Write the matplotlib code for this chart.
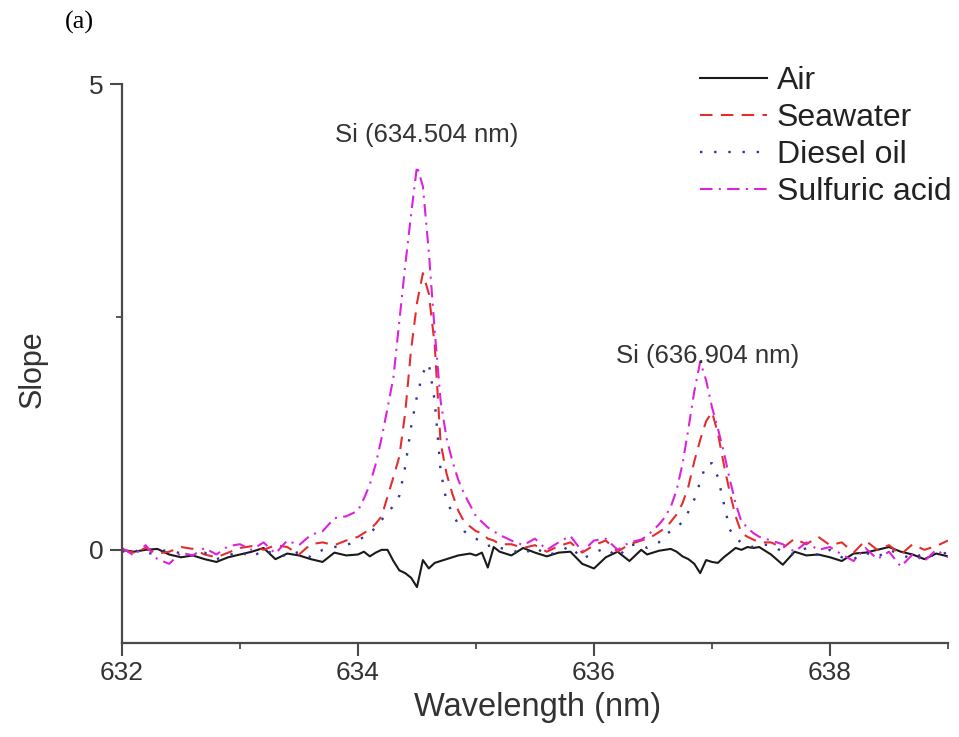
import matplotlib
matplotlib.use("Agg")
import matplotlib.pyplot as plt
from matplotlib.ticker import MultipleLocator

# ---------------- data ----------------
wavelength = [
    632.0, 632.1, 632.2, 632.3, 632.4, 632.5, 632.6, 632.7, 632.8, 632.9,
    633.0, 633.1, 633.2, 633.3, 633.4, 633.5, 633.6, 633.7, 633.8, 633.9,
    634.00, 634.05, 634.10, 634.15, 634.20, 634.25, 634.30, 634.35, 634.40, 634.45,
    634.50, 634.55, 634.60, 634.65, 634.70, 634.75, 634.80, 634.85, 634.90, 634.95,
    635.00, 635.05, 635.10, 635.15, 635.20,
    635.3, 635.4, 635.5, 635.6, 635.7, 635.8, 635.9, 636.0, 636.1, 636.2, 636.3, 636.4,
    636.45, 636.50, 636.55, 636.60, 636.65, 636.70, 636.75, 636.80, 636.85, 636.90,
    636.95, 637.00, 637.05, 637.10, 637.15, 637.20, 637.25, 637.30, 637.35, 637.40,
    637.5, 637.6, 637.7, 637.8, 637.9, 638.0, 638.1, 638.2, 638.3, 638.4,
    638.5, 638.6, 638.7, 638.8, 638.9, 639.0,
]

air = [
    0.00, -0.02, 0.00, 0.01, -0.05, -0.08, -0.06, -0.10, -0.13, -0.08,
    -0.05, -0.02, 0.02, -0.10, -0.04, -0.06, -0.10, -0.13, -0.03, -0.06,
    -0.05, -0.02, -0.07, -0.03, 0.00, 0.00, -0.12, -0.22, -0.25, -0.30,
    -0.40, -0.11, -0.20, -0.14, -0.12, -0.10, -0.08, -0.06, -0.05, -0.04,
    -0.06, -0.03, -0.19, 0.03, -0.02,
    -0.06, 0.02, -0.03, -0.07, -0.03, -0.02, -0.15, -0.20, -0.08, -0.02, -0.12, 0.00,
    -0.05, -0.03, -0.01, 0.00, 0.01, -0.02, -0.07, -0.10, -0.15, -0.25,
    -0.11, -0.13, -0.14, -0.08, -0.03, 0.02, 0.00, 0.03, 0.02, 0.03,
    -0.05, -0.16, -0.02, -0.06, -0.05, -0.08, -0.12, -0.04, -0.03, 0.00,
    0.03, -0.02, -0.05, -0.10, -0.04, -0.07,
]

seawater = [
    0.00, -0.03, 0.02, -0.04, -0.02, 0.03, 0.01, -0.05, -0.08, -0.03,
    0.02, 0.04, 0.00, 0.05, 0.03, -0.05, 0.06, 0.08, 0.05, 0.10,
    0.14, 0.18, 0.22, 0.28, 0.36, 0.57, 0.78, 1.00, 1.47, 2.15,
    2.65, 2.97, 2.75, 2.20, 1.15, 0.82, 0.60, 0.42, 0.30, 0.25,
    0.20, 0.18, 0.12, 0.10, 0.06,
    0.06, 0.02, 0.05, -0.02, 0.04, 0.08, -0.03, 0.05, 0.10, -0.02, 0.06, 0.10,
    0.12, 0.15, 0.19, 0.23, 0.30, 0.38, 0.50, 0.68, 0.95, 1.18,
    1.38, 1.48, 1.25, 0.92, 0.62, 0.36, 0.18, 0.14, 0.11, 0.08,
    0.08, 0.02, 0.12, 0.06, 0.14, 0.05, 0.08, -0.03, 0.10, 0.00,
    0.05, -0.05, 0.06, 0.00, 0.04, 0.10,
]

diesel_oil = [
    -0.02, 0.00, -0.05, -0.02, 0.00, -0.04, -0.06, -0.03, -0.10, -0.06,
    -0.02, -0.08, 0.00, -0.05, -0.07, -0.02, -0.08, 0.00, 0.03, 0.05,
    0.10, 0.14, 0.18, 0.24, 0.32, 0.40, 0.47, 0.58, 0.89, 1.32,
    1.65, 1.90, 2.00, 1.60, 0.85, 0.52, 0.40, 0.27, 0.20, 0.15,
    0.12, 0.08, 0.04, 0.06, 0.02,
    0.00, -0.05, 0.03, -0.06, -0.02, 0.04, -0.10, -0.03, 0.02, -0.08, 0.05, 0.06,
    0.02, 0.05, 0.08, 0.16, 0.20, 0.24, 0.30, 0.41, 0.54, 0.73,
    0.92, 0.93, 0.78, 0.50, 0.22, 0.12, 0.08, 0.05, 0.03, 0.06,
    0.05, -0.02, -0.05, 0.02, -0.06, 0.00, -0.08, -0.10, -0.03, -0.08,
    0.00, -0.05, -0.10, -0.03, -0.08, -0.02,
]

sulfuric_acid = [
    0.02, -0.06, 0.05, -0.10, -0.15, -0.03, -0.06, 0.02, -0.05, 0.04,
    0.06, 0.00, 0.08, -0.04, 0.10, 0.05, 0.16, 0.20, 0.34, 0.36,
    0.42, 0.55, 0.70, 0.92, 1.20, 1.52, 1.85, 2.45, 3.05, 3.60,
    4.12, 3.90, 3.20, 2.35, 1.60, 1.20, 0.95, 0.75, 0.60, 0.48,
    0.36, 0.30, 0.24, 0.20, 0.16,
    0.10, 0.05, 0.12, 0.00, 0.08, 0.15, -0.02, 0.10, 0.12, 0.00, 0.08, 0.11,
    0.15, 0.21, 0.27, 0.35, 0.46, 0.64, 0.92, 1.30, 1.70, 2.02,
    1.82, 1.53, 1.30, 1.05, 0.76, 0.50, 0.30, 0.24, 0.18, 0.14,
    0.10, 0.06, -0.02, 0.08, 0.00, 0.03, -0.05, -0.12, 0.02, -0.10,
    -0.02, -0.18, -0.05, -0.12, 0.00, -0.08,
]

series_labels = ["Air", "Seawater", "Diesel oil", "Sulfuric acid"]
x_ticks = [632, 634, 636, 638]
y_ticks = [0, 5]
peak_labels = ["Si (634.504 nm)", "Si (636.904 nm)"]
peak_label_pos = [(634.58, 4.45), (636.96, 2.08)]

# ---------------- figure ----------------
plt.rcParams['font.family'] = ['Liberation Sans', 'DejaVu Sans']

W, H = 959, 737
fig = plt.figure(figsize=(W / 100, H / 100), dpi=100)
left, right, top, bottom = 122, 948, 84, 643
ax = fig.add_axes([left / W, 1 - bottom / H, (right - left) / W, (bottom - top) / H])

spine_col = '#4a4a4a'
ax.plot(wavelength, air, color='#1a1a1a', lw=1.5, label=series_labels[0])
ax.plot(wavelength, seawater, color='#e42d2d', lw=1.5, dashes=(6, 4), label=series_labels[1])
ax.plot(wavelength, diesel_oil, color='#33339a', lw=1.7, dashes=(1, 5), label=series_labels[2])
ax.plot(wavelength, sulfuric_acid, color='#dc22dc', lw=1.5, dashes=(6, 3, 1, 3), label=series_labels[3])

ax.set_xlim(632, 639)
ax.set_ylim(-1, 5)
ax.set_xticks(x_ticks)
ax.set_yticks(y_ticks)
ax.xaxis.set_minor_locator(MultipleLocator(1))
ax.yaxis.set_minor_locator(MultipleLocator(2.5))

for s in ['top', 'right']:
    ax.spines[s].set_visible(False)
for s in ['left', 'bottom']:
    ax.spines[s].set_color(spine_col)
    ax.spines[s].set_linewidth(1.6)

ax.tick_params(which='major', direction='out', length=9, width=1.5, color=spine_col,
               labelsize=19, labelcolor='#333333', pad=4)
ax.tick_params(which='minor', direction='out', length=4.5, width=1.3, color=spine_col)
ax.tick_params(axis='x', which='major', pad=4)

ax.set_xlabel("Wavelength (nm)", fontsize=23.5, color='#333333')
ax.set_ylabel("Slope", fontsize=22, color='#333333')
ax.xaxis.set_label_coords(0.503, -0.087)
ax.yaxis.set_label_coords(-0.09, 0.49)

for txt, (px, py) in zip(peak_labels, peak_label_pos):
    ax.text(px, py, txt, ha='center', va='center', fontsize=18.5, color='#333333')

leg = ax.legend(loc='upper left', bbox_to_anchor=(700 / W, 1 - 66 / H),
                bbox_transform=fig.transFigure, frameon=False, fontsize=23,
                handlelength=2.1, handletextpad=0.3, labelspacing=0.22,
                borderpad=0, borderaxespad=0)
for t in leg.get_texts():
    t.set_color('#222222')

fig.text(65 / W, 1 - 22 / H, "(a)", family='Liberation Serif', fontsize=19,
         ha='left', va='center', color='black')

fig.savefig("out.png", dpi=100)
